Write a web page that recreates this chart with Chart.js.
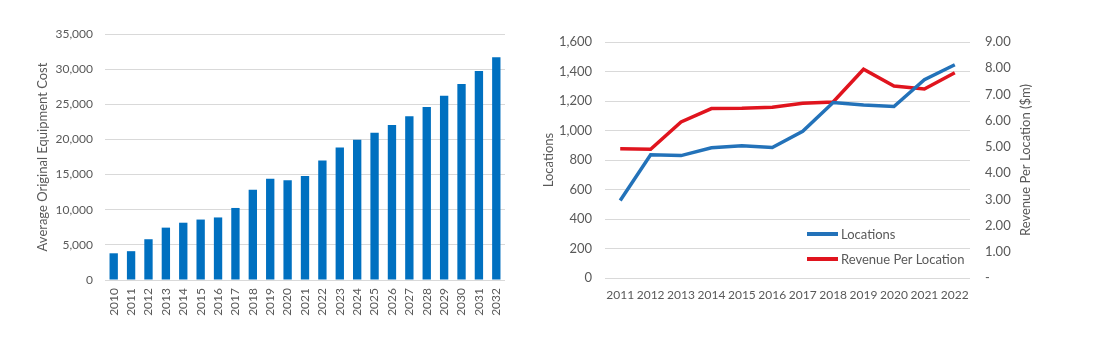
<!DOCTYPE html>
<html>
<head>
<meta charset="utf-8">
<script src="https://cdn.jsdelivr.net/npm/chart.js@4.4.1/dist/chart.umd.min.js"></script>
<style>
    body { margin: 0; background: #fff; width: 1102px; height: 339px; overflow: hidden; position: relative; font-family: Lato, 'Open Sans', sans-serif; }
    .box { position: absolute; top: 0; }
    #costBox { left: 0; width: 520px; height: 339px; }
    #locBox { left: 540px; width: 562px; height: 339px; }
    .legend { position: absolute; left: 807px; top: 221px; color: #595959; font-size: 13px; }
    .legend-row { display: flex; align-items: center; height: 25px; }
    .legend-line { width: 31px; height: 4px; margin-right: 3px; }
</style>
</head>
<body>
<div class="box" id="costBox"><canvas id="costChart" width="520" height="339"></canvas></div>
<div class="box" id="locBox"><canvas id="locChart" width="562" height="339"></canvas></div>
<div class="legend" id="locLegend"></div>
<script>
// Data
const costYears = ['2010', '2011', '2012', '2013', '2014', '2015', '2016', '2017', '2018', '2019', '2020', '2021',
    '2022', '2023', '2024', '2025', '2026', '2027', '2028', '2029', '2030', '2031', '2032'];
const avgEquipmentCost = [3800, 4100, 5800, 7450, 8150, 8600, 8900, 10250, 12850, 14400, 14200, 14800,
    17000, 18850, 19950, 20950, 22050, 23300, 24600, 26200, 27900, 29750, 31700];

const locYears = ['2011', '2012', '2013', '2014', '2015', '2016', '2017', '2018', '2019', '2020', '2021', '2022'];
const locations = [525, 835, 830, 883, 897, 885, 995, 1190, 1173, 1163, 1344, 1446];
const revenuePerLocation = [4.93, 4.91, 5.95, 6.46, 6.47, 6.51, 6.66, 6.71, 7.96, 7.32, 7.21, 7.83];

const rightAxisTitle = 'Revenue Per Location ($m)';

// Chart Defaults
Chart.defaults.color = '#595959';
Chart.defaults.font.family = "Lato, 'Open Sans', sans-serif";
Chart.defaults.font.size = 12;
Chart.defaults.animation = false;

const gridGrey = '#d9d9d9';

// 1. Average equipment cost bars
new Chart(document.getElementById('costChart'), {
    type: 'bar',
    data: {
        labels: costYears,
        datasets: [{
            label: 'Average Original Equipment Cost',
            data: avgEquipmentCost,
            backgroundColor: '#0070c0',
            barPercentage: 0.48,
            categoryPercentage: 1
        }]
    },
    options: {
        responsive: false,
        layout: { padding: { left: 0, right: 15, top: 34, bottom: 19 } },
        plugins: { legend: { display: false }, tooltip: { enabled: false } },
        scales: {
            x: {
                grid: { display: false, drawTicks: false },
                border: { display: false },
                ticks: { minRotation: 90, maxRotation: 90, autoSkip: false, padding: 8 },
                afterFit: s => { s.height = 40; }
            },
            y: {
                min: 0, max: 35000,
                ticks: { stepSize: 5000, padding: 12, callback: v => v.toLocaleString('en-US') },
                grid: { color: gridGrey, drawTicks: false },
                border: { display: false },
                title: { display: true, text: 'Average Original Equipment Cost', font: { size: 13 }, padding: { top: 35, bottom: 0 } },
                afterFit: s => { s.width = 105; }
            }
        }
    }
});

// Right axis title reads bottom-to-top, like Excel
const rightTitlePlugin = {
    id: 'rightTitle',
    afterDraw(chart) {
        const s = chart.scales.y1;
        const ctx = chart.ctx;
        ctx.save();
        ctx.translate(s.right - 8, (chart.chartArea.top + chart.chartArea.bottom) / 2);
        ctx.rotate(-Math.PI / 2);
        ctx.font = "13px Lato, 'Open Sans', sans-serif";
        ctx.fillStyle = '#595959';
        ctx.textAlign = 'center';
        ctx.textBaseline = 'middle';
        ctx.fillText(rightAxisTitle, 0, 0);
        ctx.restore();
    }
};

// 2. Locations vs revenue per location
const locChart = new Chart(document.getElementById('locChart'), {
    type: 'line',
    data: {
        labels: locYears,
        datasets: [
            {
                label: 'Locations',
                data: locations,
                borderColor: '#2372b9',
                borderWidth: 3.5,
                pointRadius: 0,
                tension: 0,
                yAxisID: 'y',
                order: 0
            },
            {
                label: 'Revenue Per Location',
                data: revenuePerLocation,
                borderColor: '#e0141e',
                borderWidth: 3.5,
                pointRadius: 0,
                tension: 0,
                yAxisID: 'y1',
                order: 1
            }
        ]
    },
    options: {
        responsive: false,
        layout: { padding: { left: 0, right: 68, top: 42, bottom: 21 } },
        plugins: { legend: { display: false }, tooltip: { enabled: false } },
        scales: {
            x: {
                offset: true,
                grid: { display: false, drawTicks: false },
                border: { display: false },
                ticks: { maxRotation: 0, autoSkip: false, padding: 10 },
                afterFit: s => { s.height = 40; }
            },
            y: {
                position: 'left',
                min: 0, max: 1600,
                ticks: { stepSize: 200, padding: 13, font: { size: 13 }, callback: v => v.toLocaleString('en-US') },
                grid: { color: gridGrey, drawTicks: false },
                border: { display: false },
                title: { display: true, text: 'Locations', font: { size: 13 }, padding: { top: 1, bottom: 0 } },
                afterFit: s => { s.width = 65; }
            },
            y1: {
                position: 'right',
                min: 0, max: 9,
                ticks: { stepSize: 1, padding: 15, font: { size: 13 }, callback: v => v === 0 ? '-' : v.toFixed(2) },
                grid: { display: false, drawTicks: false },
                border: { display: false },
                afterFit: s => { s.width = 64; }
            }
        }
    },
    plugins: [rightTitlePlugin]
});

// HTML legend inside the plot, built from the datasets
const legendEl = document.getElementById('locLegend');
locChart.data.datasets.forEach(ds => {
    let row = document.createElement('div');
    row.className = 'legend-row';
    row.innerHTML = `<span class="legend-line" style="background:${ds.borderColor}"></span><span>${ds.label}</span>`;
    legendEl.appendChild(row);
});
</script>
</body>
</html>
